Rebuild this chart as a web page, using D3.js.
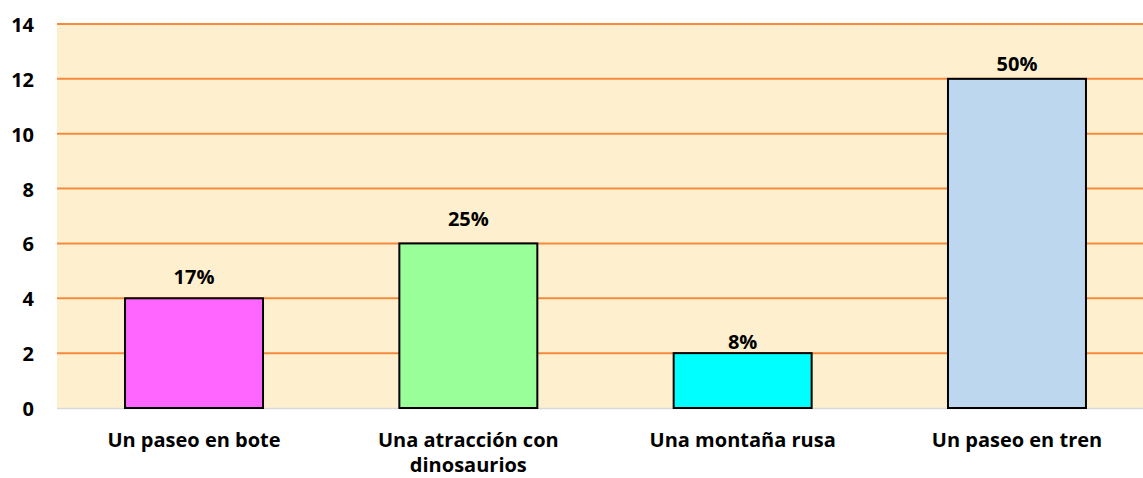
<!DOCTYPE html>
<meta charset="utf-8">
<style>
  body { margin: 0; background: #fff; }
  text { font-family: "Open Sans", sans-serif; font-weight: bold; fill: #000; }
</style>
<body>
<div id="chart"></div>
<script src="https://d3js.org/d3.v7.min.js"></script>
<script>

var categories = [["Un paseo en bote"], ["Una atracción con", "dinosaurios"], ["Una montaña rusa"], ["Un paseo en tren"]]
var values = [4, 6, 2, 12]
var labels = ["17%", "25%", "8%", "50%"]
var colors = ["#FF66FF", "#99FF99", "#00FFFF", "#BDD7EE"]
var yTicks = [0, 2, 4, 6, 8, 10, 12, 14]

var W = 1143, H = 478
var margin = {top: 24, right: 0, bottom: 70, left: 57},
    width = W - margin.left - margin.right,
    height = H - margin.top - margin.bottom;

// gap between bar top and label baseline, as placed in the original
var labelGap = [14, 17, 4, 8]

var svg = d3.select("#chart").append("svg")
    .attr("width", W).attr("height", H)
  .append("g")
    .attr("transform", "translate(" + margin.left + "," + margin.top + ")");

// the plot area runs a bit past the right edge of the picture
var x = d3.scaleBand()
  .domain(d3.range(values.length))
  .range([0, 1097])
  .paddingInner(0.497).paddingOuter(0.248)

var y = d3.scaleLinear().domain([0, 14]).range([height, 0])

svg.append("rect")
  .attr("width", width).attr("height", height)
  .attr("fill", "#FEF0CE")

svg.selectAll(".grid")
  .data(yTicks.slice(1))
  .enter().append("line")
    .attr("x1", 0).attr("x2", width)
    .attr("y1", function(d) { return y(d) }).attr("y2", function(d) { return y(d) })
    .attr("stroke", "#F58A3C").attr("stroke-width", 2)

svg.append("line")
  .attr("x1", 0).attr("x2", width)
  .attr("y1", height + 0.5).attr("y2", height + 0.5)
  .attr("stroke", "#D9D9D9").attr("stroke-width", 1.5)

svg.selectAll(".bar")
  .data(values)
  .enter().append("rect")
    .attr("x", function(d, i) { return x(i) })
    .attr("y", function(d) { return y(d) })
    .attr("width", x.bandwidth())
    .attr("height", function(d) { return height - y(d) })
    .attr("fill", function(d, i) { return colors[i] })
    .attr("stroke", "#000").attr("stroke-width", 2)

svg.selectAll(".val")
  .data(values)
  .enter().append("text")
    .attr("x", function(d, i) { return x(i) + x.bandwidth() / 2 })
    .attr("y", function(d, i) { return y(d) - labelGap[i] })
    .attr("text-anchor", "middle")
    .style("font-size", "20px")
    .text(function(d, i) { return labels[i] })

svg.selectAll(".ytick")
  .data(yTicks)
  .enter().append("text")
    .attr("x", -23)
    .attr("y", function(d) { return y(d) + 8 })
    .attr("text-anchor", "end")
    .style("font-size", "20px")
    .text(function(d) { return d })

var cat = svg.selectAll(".cat")
  .data(categories)
  .enter().append("text")
    .attr("text-anchor", "middle")
    .style("font-size", "20px")

cat.selectAll("tspan")
  .data(function(d, i) { return d.map(function(t) { return {t: t, i: i} }) })
  .enter().append("tspan")
    .attr("x", function(d) { return x(d.i) + x.bandwidth() / 2 })
    .attr("y", function(d, j) { return height + 39 + j * 25 })
    .text(function(d) { return d.t })

</script>
</body>
